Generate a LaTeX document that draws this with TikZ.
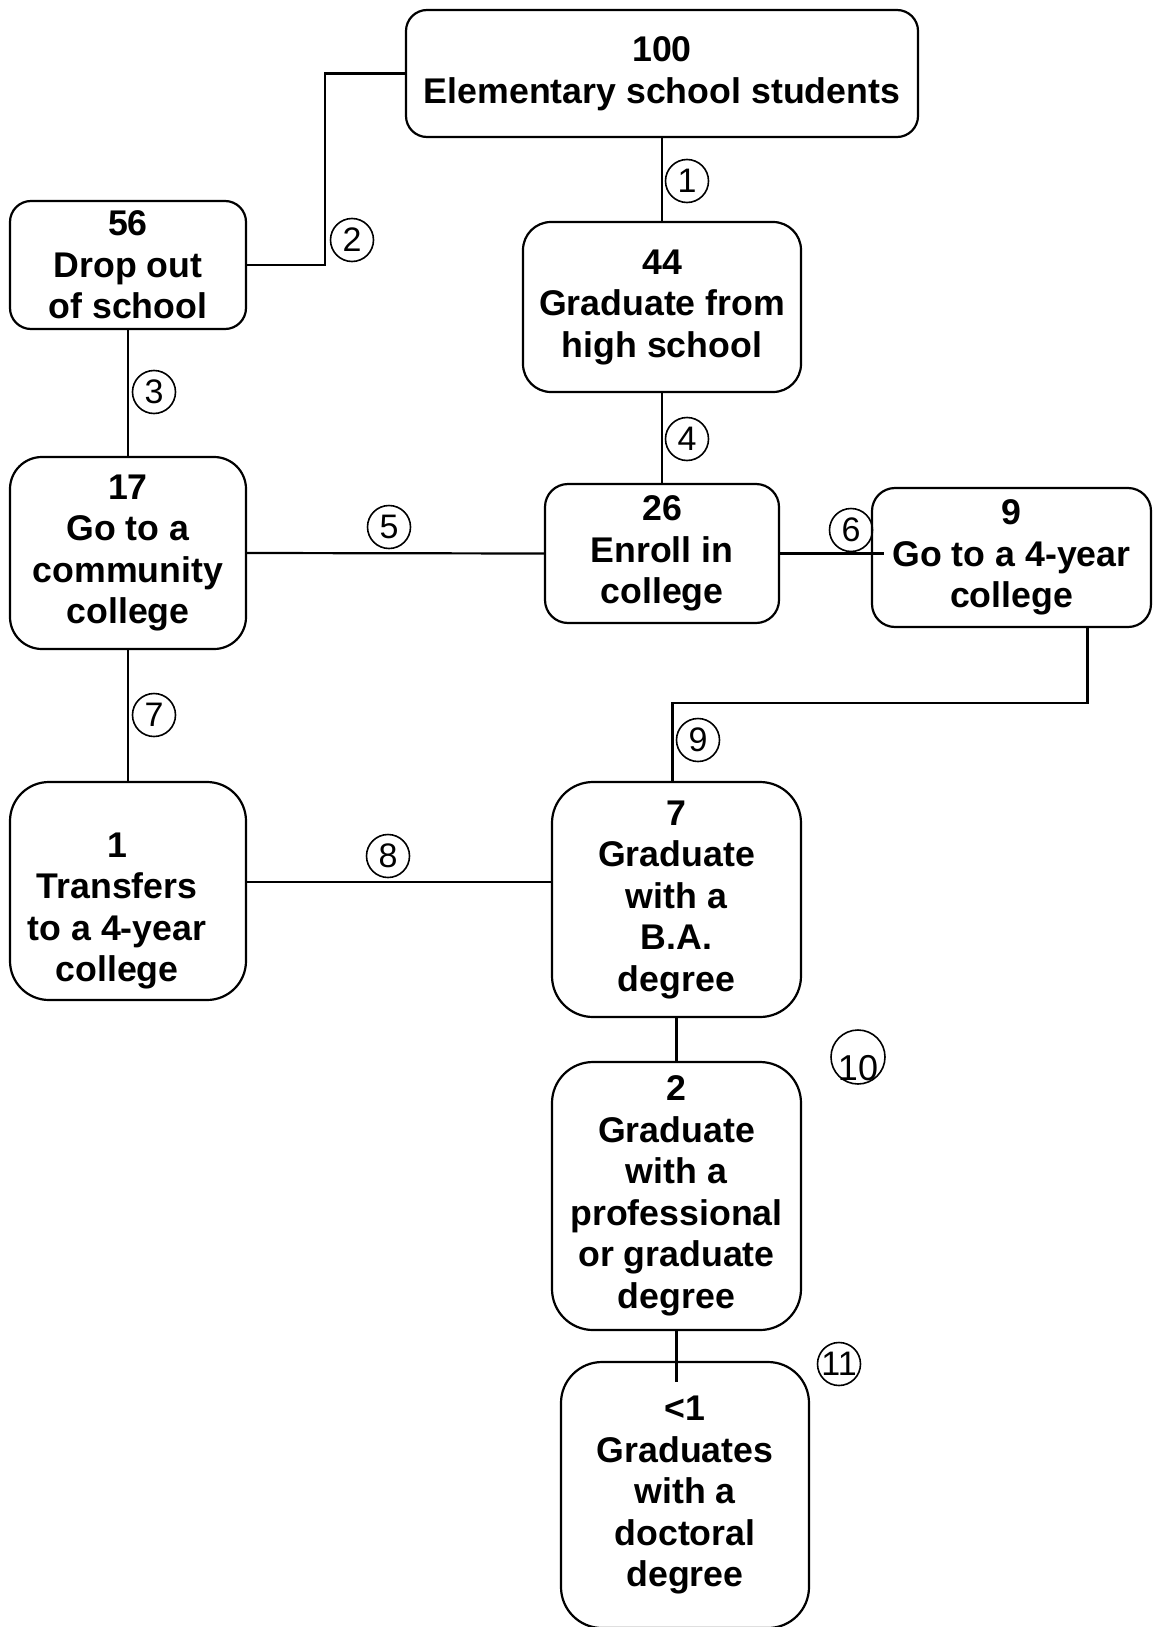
\documentclass[tikz,border=0pt]{standalone}
\usepackage{fontspec}
\setmainfont{Liberation Sans}
\usetikzlibrary{positioning}
\tikzset{
  stage/.style  ={draw, line width=2.2pt, align=center, inner sep=0pt,
                  font=\fontsize{35.7}{41.5}\selectfont\bfseries},
  stepnum/.style={draw, circle, line width=1.6pt, inner sep=0pt, minimum size=43pt,
                  font=\fontsize{34}{34}\selectfont},
  link/.style   ={line width=2.2pt},
}

\begin{document}
\begin{tikzpicture}[x=1pt, y=-1pt]
        \useasboundingbox (0,0) rectangle (1152,1627);
        \clip (0,0) rectangle (1152,1627);
        % boxes
        \node[stage, minimum width=512pt, minimum height=127pt, rounded corners=21pt] (elem) at (662,73.5)
          {100\\Elementary school students};
        \node[stage, minimum width=236pt, minimum height=128pt, rounded corners=21pt] (drop) at (128,265)
          {56\\Drop out\\of school};
        \node[stage, minimum width=278pt, minimum height=170pt, rounded corners=28pt] (hs) at (662,307)
          {44\\Graduate from\\high school};
        \node[stage, minimum width=236pt, minimum height=192pt, rounded corners=32pt] (cc) at (128,553)
          {17\\Go to a\\community\\college};
        \node[stage, minimum width=234pt, minimum height=139pt, rounded corners=23pt] (enroll) at (662,553.5)
          {26\\Enroll in\\college};
        \node[stage, minimum width=279pt, minimum height=139pt, rounded corners=23pt] (four) at (1011.5,557.5)
          {9\\Go to a 4-year\\college};
        \node[stage, minimum width=236pt, minimum height=218pt, rounded corners=39pt] (trans) at (128,891) {};
        \node[stage, draw=none] (transtext) at (117,911)
          {1\\Transfers\\to a 4-year\\college};
        \node[stage, minimum width=249pt, minimum height=235pt, rounded corners=41pt] (ba) at (676.5,899.5)
          {7\\Graduate\\with a\\B.A.\\degree};
        \node[stage, minimum width=249pt, minimum height=268pt, rounded corners=41pt] (prof) at (676.5,1196)
          {2\\Graduate\\with a\\professional\\or graduate\\degree};
        \node[stage, minimum width=248pt, minimum height=266pt, rounded corners=41pt] (doct) at (685,1495)
          {<1\\Graduates\\with a\\doctoral\\degree};
        % connectors
        \draw[link] (elem.south) -- (hs.north);
        \draw[link] (elem.west) -- ++(-80,0) |- (drop.east);
        \draw[link] (drop.south) -- (cc.north);
        \draw[link] (hs.south) -- (enroll.north);
        \draw[link] (cc.east) -- (enroll.west);
        \draw[link] (enroll.east) -- ([xshift=13pt]enroll.east -| four.west);
        \draw[link] (cc.south) -- (trans.north);
        \draw[link] ([yshift=9pt]trans.east) -- ([yshift=9pt]trans.east -| ba.west);
        \draw[link] ([xshift=76pt]four.south) -- ++(0,75) -| ([xshift=-4pt]ba.north);
        \draw[link] (ba.south) -- (prof.north);
        \draw[link] (prof.south) -- ([yshift=-21pt]prof.south |- doct.north);
        % step numbers
        \node[stepnum] (n1) at (687,181) {1};
        \node[stepnum] (n2) at (352,240) {2};
        \node[stepnum] (n3) at (154,392) {3};
        \node[stepnum] (n4) at (687,439) {4};
        \node[stepnum] (n5) at (389,527) {5};
        \node[stepnum] (n6) at (851,530) {6};
        \node[stepnum] (n7) at (154,715) {7};
        \node[stepnum] (n8) at (388,856) {8};
        \node[stepnum] (n9) at (698,740) {9};
        \node[stepnum, minimum size=54pt,
              label={[yshift=-11pt, font=\fontsize{36}{36}\selectfont]center:10}] (n10) at (858,1057) {};
        \node[stepnum] (n11) at (839,1364) {11};
\end{tikzpicture}
\end{document}
